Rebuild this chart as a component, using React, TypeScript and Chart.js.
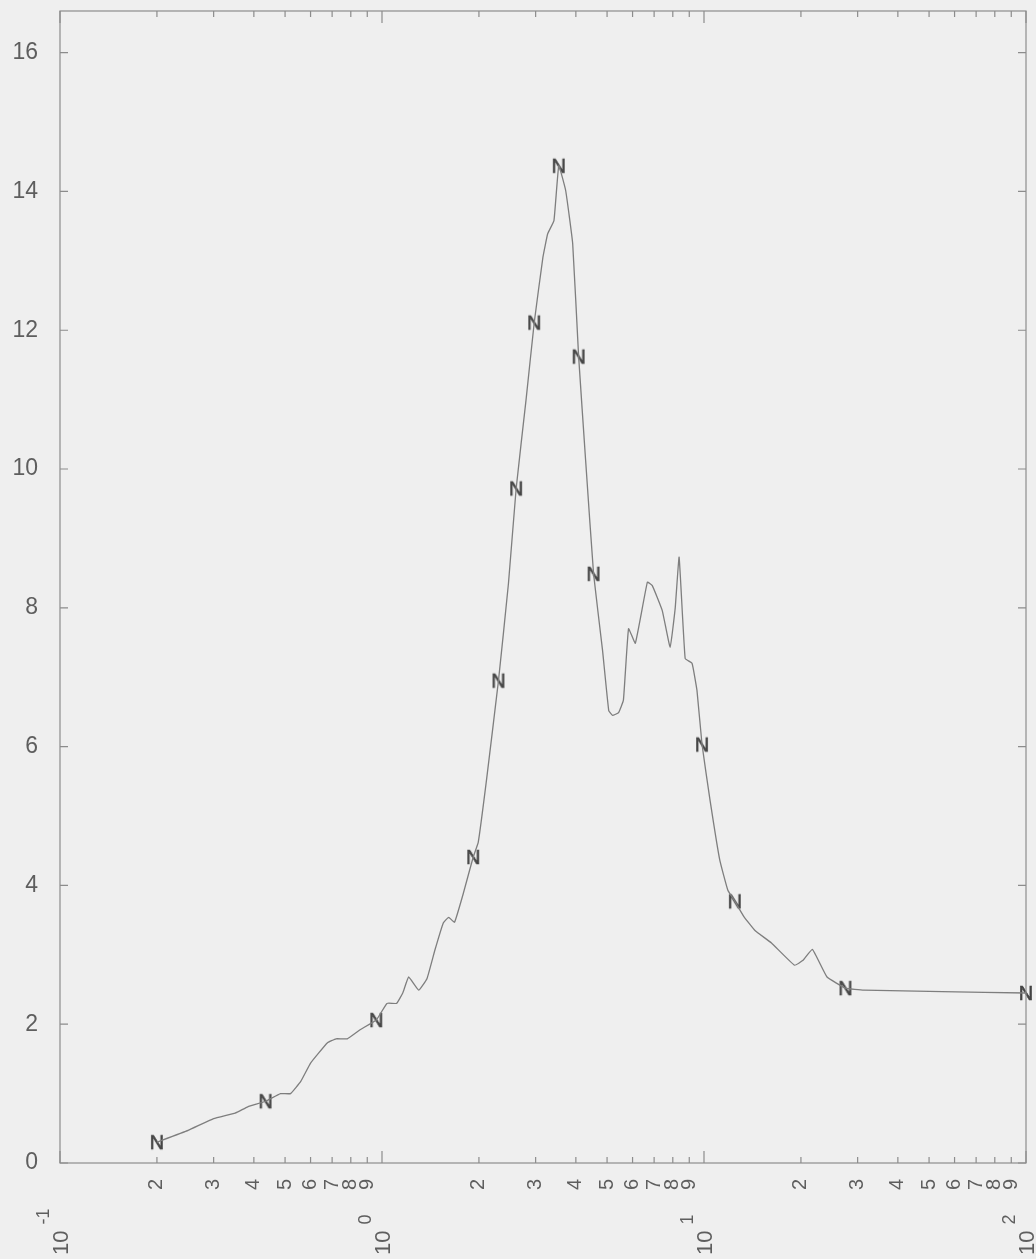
import { useEffect, useRef } from 'react';
import { Chart, registerables } from 'chart.js';

Chart.register(...registerables);

// ---- axis definitions ----
const decadeExponents = [-1, 0, 1, 2];
const minorDigits = [2, 3, 4, 5, 6, 7, 8, 9];
const yTickValues = [0, 2, 4, 6, 8, 10, 12, 14, 16];
const X_MIN = 0.1;
const X_MAX = 100;
const Y_MIN = 0;
const Y_MAX = 16.6;

// ---- curve ----
const curveX = [
  0.2, 0.25, 0.3, 0.35, 0.383, 0.435, 0.484, 0.52, 0.56, 0.6, 0.676, 0.72, 0.78, 0.855, 0.96,
  1.036, 1.11, 1.16, 1.21, 1.3, 1.38, 1.46, 1.55, 1.61, 1.68, 1.79, 1.92, 1.99, 2.11, 2.3,
  2.47, 2.61, 2.8, 2.97, 3.16, 3.27, 3.42, 3.54, 3.72, 3.91, 4.08, 4.29, 4.54, 4.84, 5.06,
  5.2, 5.43, 5.62, 5.83, 6.12, 6.67, 6.91, 7.42, 7.85, 8.14, 8.37, 8.74, 9.18, 9.51, 9.86,
  10.44, 11.2, 11.86, 12.47, 13.3, 14.4, 16.2, 19.1, 20.3, 21.7, 24.1, 27.5, 31.4, 55, 100,
];
const curveY = [
  0.3, 0.47, 0.64, 0.72, 0.81, 0.89, 1.0, 1.0, 1.18, 1.44, 1.73, 1.79, 1.79, 1.92, 2.06,
  2.3, 2.3, 2.45, 2.68, 2.49, 2.66, 3.07, 3.46, 3.54, 3.47, 3.89, 4.41, 4.62, 5.51, 6.95,
  8.35, 9.72, 10.99, 12.11, 13.05, 13.39, 13.58, 14.37, 14.01, 13.25, 11.62, 10.12, 8.49, 7.39, 6.52,
  6.45, 6.49, 6.67, 7.7, 7.49, 8.37, 8.32, 7.96, 7.43, 8.0, 8.73, 7.27, 7.2, 6.81, 6.03,
  5.23, 4.36, 3.93, 3.77, 3.55, 3.35, 3.17, 2.85, 2.92, 3.08, 2.68, 2.52, 2.49, 2.47, 2.45,
];

// ---- "N" markers ----
const markerX = [0.2, 0.435, 0.96, 1.92, 2.3, 2.61, 2.97, 3.54, 4.08, 4.54, 9.86, 12.47, 27.5, 100];
const markerY = [0.3, 0.89, 2.06, 4.41, 6.95, 9.72, 12.11, 14.37, 11.62, 8.49, 6.03, 3.77, 2.52, 2.45];

const FONT = '"Liberation Sans", Arial, sans-serif';
const AXIS_COLOR = '#8c8c8c';
const LABEL_COLOR = '#5e5e5e';

const xTickValues: number[] = [];
decadeExponents.forEach((e, i) => {
  xTickValues.push(Math.pow(10, e));
  if (i < decadeExponents.length - 1) {
    minorDigits.forEach((d) => xTickValues.push(Number((d * Math.pow(10, e)).toPrecision(6))));
  }
});

const isDecade = (v: number) => Math.abs(Math.log10(v) - Math.round(Math.log10(v))) < 1e-9;

const framePlugin = {
  id: 'frame',
  afterDraw(chart: any) {
    const { ctx, chartArea } = chart;
    const { left, right, top, bottom } = chartArea;
    const xs = chart.scales.x;
    const ys = chart.scales.y;
    ctx.save();
    ctx.strokeStyle = AXIS_COLOR;
    ctx.lineWidth = 1.2;
    ctx.strokeRect(left, top, right - left, bottom - top);
    ctx.beginPath();
    xTickValues.forEach((v) => {
      const px = xs.getPixelForValue(v);
      const len = isDecade(v) ? 12 : 6;
      ctx.moveTo(px, bottom);
      ctx.lineTo(px, bottom - len);
      ctx.moveTo(px, top);
      ctx.lineTo(px, top + len);
    });
    yTickValues.forEach((v) => {
      const py = ys.getPixelForValue(v);
      ctx.moveTo(left, py);
      ctx.lineTo(left + 8, py);
      ctx.moveTo(right, py);
      ctx.lineTo(right - 8, py);
    });
    ctx.stroke();

    // decade labels: 10 with exponent, rotated
    ctx.fillStyle = LABEL_COLOR;
    decadeExponents.forEach((e) => {
      const px = xs.getPixelForValue(Math.pow(10, e));
      ctx.save();
      ctx.translate(px + 2, bottom + 92);
      ctx.rotate(-Math.PI / 2);
      ctx.font = `22px ${FONT}`;
      ctx.textAlign = 'left';
      ctx.textBaseline = 'middle';
      ctx.fillText('10', 0, 0);
      const w = ctx.measureText('10').width;
      ctx.font = `18px ${FONT}`;
      ctx.fillText(String(e), w + 6, -18);
      ctx.restore();
    });
    ctx.restore();
  },
};

export default function App() {
  const ref = useRef<HTMLCanvasElement>(null);

  useEffect(() => {
    const canvas = ref.current;
    if (!canvas) return;

    const nImg = document.createElement('canvas');
    nImg.width = 18;
    nImg.height = 20;
    const nctx = nImg.getContext('2d');
    if (nctx) {
      nctx.fillStyle = '#444444';
      nctx.strokeStyle = '#444444';
      nctx.lineWidth = 0.6;
      nctx.font = `20px ${FONT}`;
      nctx.textAlign = 'center';
      nctx.textBaseline = 'middle';
      nctx.fillText('N', 9, 11);
      nctx.strokeText('N', 9, 11);
    }

    const chart = new Chart(canvas, {
      type: 'line',
      data: {
        datasets: [
          {
            data: curveX.map((x, i) => ({ x, y: curveY[i] })),
            borderColor: '#7e7e7e',
            borderWidth: 1.3,
            pointRadius: 0,
            tension: 0.1,
            fill: false,
            clip: false as any,
          },
          {
            data: markerX.map((x, i) => ({ x, y: markerY[i] })),
            showLine: false,
            pointStyle: nImg as any,
            pointRadius: 9,
            clip: false as any,
          },
        ],
      },
      options: {
        responsive: false,
        animation: false,
        devicePixelRatio: 1,
        layout: { padding: { top: 11, right: 5, left: 0, bottom: 0 } },
        plugins: { legend: { display: false }, tooltip: { enabled: false } },
        scales: {
          x: {
            type: 'logarithmic',
            min: X_MIN,
            max: X_MAX,
            grid: { display: false },
            border: { display: false },
            afterBuildTicks: (s: any) => {
              s.ticks = xTickValues.map((v) => ({ value: v }));
            },
            afterFit: (s: any) => {
              s.height = 96;
              s.paddingLeft = 0;
              s.paddingRight = 0;
            },
            ticks: {
              autoSkip: false,
              minRotation: 90,
              maxRotation: 90,
              padding: 8,
              color: LABEL_COLOR,
              font: { family: FONT, size: 20 },
              callback: (value: any) => {
                const v = Number(value);
                if (isDecade(v)) return '';
                const p = Math.pow(10, Math.floor(Math.log10(v) + 1e-9));
                return String(Math.round(v / p));
              },
            },
          },
          y: {
            type: 'linear',
            min: Y_MIN,
            max: Y_MAX,
            grid: { display: false },
            border: { display: false },
            afterBuildTicks: (s: any) => {
              s.ticks = yTickValues.map((v) => ({ value: v }));
            },
            afterFit: (s: any) => {
              s.width = 60;
              s.paddingTop = 0;
              s.paddingBottom = 0;
            },
            ticks: {
              padding: 14,
              color: LABEL_COLOR,
              font: { family: FONT, size: 23, lineHeight: 0.9 },
              callback: (value: any) => String(value),
            },
          },
        },
      },
      plugins: [framePlugin],
    });

    return () => chart.destroy();
  }, []);

  return (
    <div
      style={{
        position: 'absolute',
        left: 0,
        top: 0,
        width: 1036,
        height: 1259,
        background: '#efefef',
        overflow: 'hidden',
      }}
    >
      <canvas ref={ref} width={1036} height={1259} style={{ display: 'block' }} />
    </div>
  );
}
